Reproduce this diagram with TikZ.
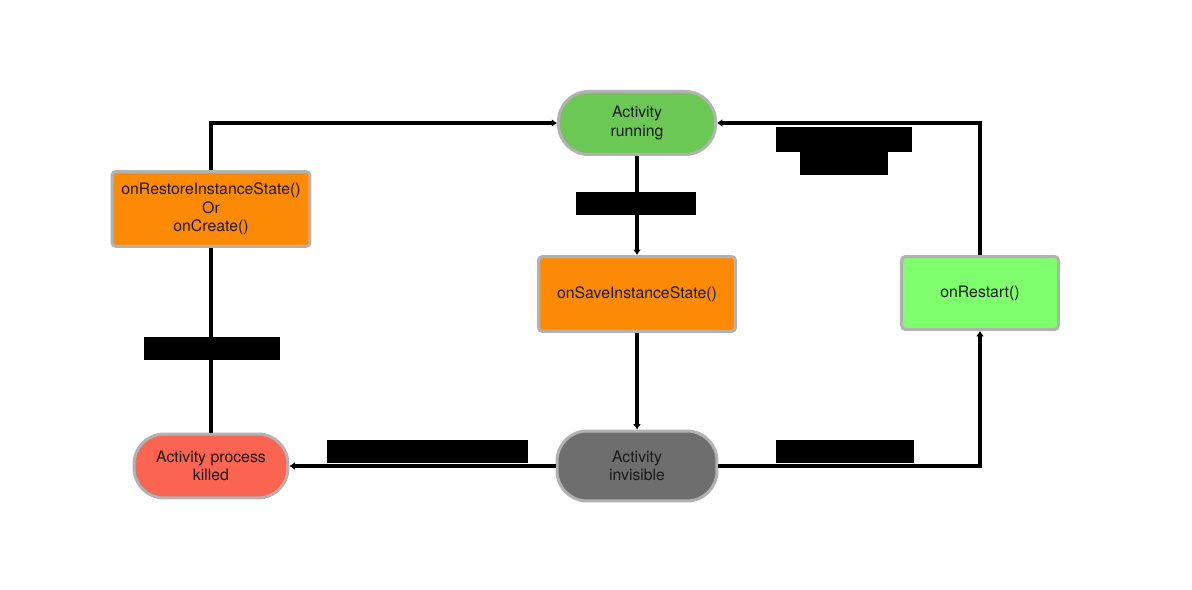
\documentclass[tikz,border=0pt]{standalone}
\usepackage{fontspec}
\setsansfont{TeX Gyre Heros}
\usetikzlibrary{arrows.meta,shadows}

\definecolor{runGreen}{HTML}{6CC855}
\definecolor{restartGreen}{HTML}{80FF6E}
\definecolor{stateOrange}{HTML}{FD8A05}
\definecolor{killRed}{HTML}{FA6450}
\definecolor{hideGray}{HTML}{6E6E6E}

\begin{document}
\begin{tikzpicture}[x=0.02cm,y=-0.02cm,
    link/.style={line width=0.08cm,-{Latex[length=3pt,width=4.5pt]}},
    plain/.style={line width=0.08cm},
    state/.style={draw=black!30,line width=0.06cm,font=\sffamily\fontsize{9}{10.4}\selectfont,align=center,text=black!90,inner sep=0pt},
    pill/.style={state,rounded corners=0.6cm},
    callback/.style={state,rounded corners=0.08cm},
    lbl/.style={fill=black,inner sep=0pt,minimum height=0.46cm}]
    \useasboundingbox (0,0) rectangle (1192,590);

    \node[pill,fill=runGreen,minimum width=3.14cm,minimum height=1.26cm] (running) at (637,123) {Activity\\running};
    \node[callback,fill=stateOrange,minimum width=3.96cm,minimum height=1.5cm] (restore) at (211,209) {onRestoreInstanceState()\\Or\\onCreate()};
    \node[callback,fill=stateOrange,minimum width=3.94cm,minimum height=1.5cm] (save) at (637,294) {onSaveInstanceState()};
    \node[callback,fill=restartGreen,minimum width=3.14cm,minimum height=1.46cm] (restart) at (980,293) {onRestart()};
    \node[pill,fill=killRed,minimum width=3.08cm,minimum height=1.28cm] (killed) at (211,466) {Activity process\\killed};
    \node[pill,fill=hideGray,minimum width=3.2cm,minimum height=1.4cm] (invisible) at (637,466) {Activity\\invisible};

    \draw[plain] (killed.north) -- (restore.south);
    \draw[link] (restore.north) |- (running.west);
    \draw[link] (running.south) -- (save.north);
    \draw[link] (save.south) -- (invisible.north);
    \draw[link] (invisible.west) -- (killed.east);
    \draw[link] (invisible.east) -| (restart.south);
    \draw[link] (restart.north) |- (running.east);

    % labels (shown as solid blocks)
    \node[lbl,minimum width=2.72cm,minimum height=0.5cm] (lblBackTop) at (844,139.5) {};
    \node[lbl,minimum width=1.76cm] (lblBackBottom) at (844,163.5) {};
    \node[lbl,minimum width=2.4cm] (lblPause) at (636,203.5) {};
    \node[lbl,minimum width=2.72cm] (lblRecreate) at (212,348.5) {};
    \node[lbl,minimum width=4.02cm] (lblKill) at (427.5,451.5) {};
    \node[lbl,minimum width=2.76cm] (lblReturn) at (845,451.5) {};
\end{tikzpicture}
\end{document}
